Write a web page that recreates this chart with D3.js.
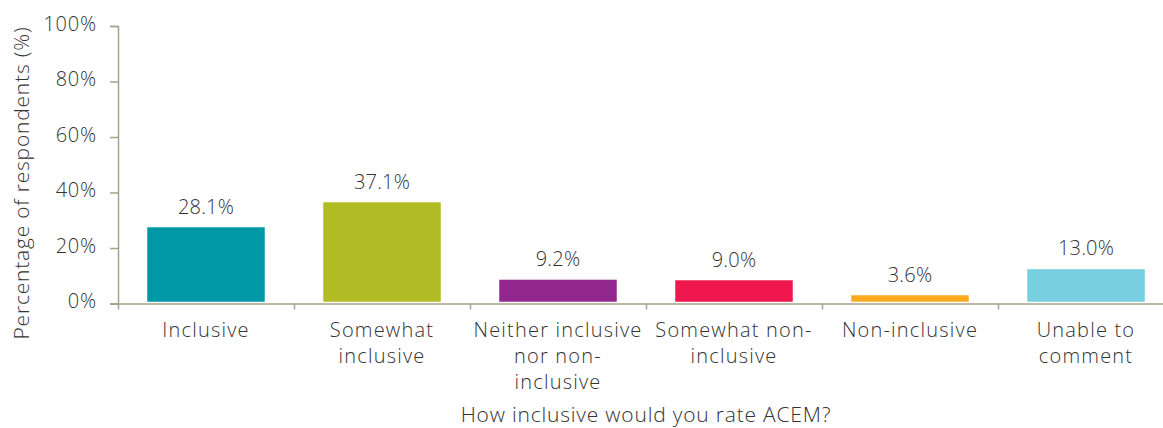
<!DOCTYPE html>
<html>
<head>
<meta charset="utf-8">
<script src="https://cdn.jsdelivr.net/npm/d3@7"></script>
<style>
  html, body { margin: 0; padding: 0; background: #fff; }
  svg { display: block; }
  text { font-family: "Open Sans", "DejaVu Sans", sans-serif; font-weight: 300; fill: #333333; }
</style>
</head>
<body>
<svg id="chart" width="1163" height="428"></svg>
<script>
// Survey responses: rating of ACEM inclusiveness
const categories = [
  "Inclusive",
  "Somewhat inclusive",
  "Neither inclusive nor non-inclusive",
  "Somewhat non-inclusive",
  "Non-inclusive",
  "Unable to comment"
];
// Wrapped category labels as shown under each bar
const categoryLines = [
  ["Inclusive"],
  ["Somewhat", "inclusive"],
  ["Neither inclusive", "nor non-", "inclusive"],
  ["Somewhat non-", "inclusive"],
  ["Non-inclusive"],
  ["Unable to", "comment"]
];
const percentages = [28.1, 37.1, 9.2, 9.0, 3.6, 13.0];
const barColors = ["#0097a6", "#b1bb24", "#92278f", "#ef174d", "#fbaa1e", "#77cfdf"];
const yTicks = [0, 20, 40, 60, 80, 100];
const yTitle = "Percentage of respondents (%)";
const xTitle = "How inclusive would you rate ACEM?";

const svg = d3.select("#chart");
const axisColor = "#a9a28a";
const plotLeft = 118, plotRight = 1174, plotTop = 26, plotBottom = 303.5;

const x = d3.scaleBand()
  .domain(categories)
  .range([plotLeft, plotRight])
  .paddingInner(0.3125)
  .paddingOuter(0.15625);

const y = d3.scaleLinear().domain([0, 100]).range([plotBottom, plotTop]);

// Bars, with a white outline as in the source styling
svg.append("g")
  .selectAll("rect")
  .data(percentages)
  .join("rect")
  .attr("x", (d, i) => x(categories[i]))
  .attr("y", d => y(d))
  .attr("width", x.bandwidth())
  .attr("height", d => y(0) - y(d))
  .attr("fill", (d, i) => barColors[i])
  .attr("stroke", "#fff")
  .attr("stroke-width", 3.5);

// Value labels
svg.append("g")
  .selectAll("text")
  .data(percentages)
  .join("text")
  .attr("x", (d, i) => x(categories[i]) + x.bandwidth() / 2)
  .attr("y", d => y(d) - 12)
  .attr("text-anchor", "middle")
  .style("font-size", "20px")
  .style("letter-spacing", "0.2px")
  .text(d => d.toFixed(1) + "%");

// Y axis
const yAxis = svg.append("g")
  .attr("transform", `translate(${plotLeft},0)`)
  .call(d3.axisLeft(y).tickValues(yTicks).tickFormat(d => d + "%").tickSize(8).tickPadding(13));
yAxis.attr("font-family", null).attr("font-size", null);
yAxis.select(".domain").attr("stroke", axisColor).attr("stroke-width", 1.5);
yAxis.selectAll(".tick line").attr("stroke", axisColor).attr("stroke-width", 1.5);
yAxis.selectAll(".tick text")
  .attr("dy", "0.2em")
  .attr("fill", null)
  .style("font-size", "20px")
  .style("letter-spacing", "0.8px");

// X axis: category boundaries as ticks
const boundaries = categories.map(c => x(c) - x.step() * x.paddingInner() / 2).concat([plotRight]);
const xAxisScale = d3.scaleLinear().domain([plotLeft, plotRight]).range([plotLeft, plotRight]);
const xAxis = svg.append("g")
  .attr("transform", `translate(0,${plotBottom})`)
  .call(d3.axisBottom(xAxisScale).tickValues(boundaries).tickSize(6).tickSizeOuter(0).tickFormat(""));
xAxis.select(".domain").attr("stroke", axisColor).attr("stroke-width", 1.5)
  .attr("d", `M${plotLeft - 8},0.5H${plotRight}`);
xAxis.selectAll(".tick line").attr("stroke", axisColor).attr("stroke-width", 1.5);

// Category labels
const catG = svg.append("g");
categoryLines.forEach((lines, i) => {
  const cx = x(categories[i]) + x.bandwidth() / 2;
  const t = catG.append("text")
    .attr("x", cx)
    .attr("y", 337)
    .attr("text-anchor", "middle")
    .style("font-size", "20px")
    .style("letter-spacing", "1.2px");
  lines.forEach((ln, j) => {
    t.append("tspan")
      .attr("x", cx)
      .attr("dy", j === 0 ? 0 : 26)
      .text(ln);
  });
});

// Axis titles
svg.append("text")
  .attr("transform", `translate(29,183) rotate(-90)`)
  .attr("text-anchor", "middle")
  .style("font-size", "21px")
  .style("letter-spacing", "0.8px")
  .text(yTitle);

svg.append("text")
  .attr("x", (plotLeft + plotRight) / 2)
  .attr("y", 422)
  .attr("text-anchor", "middle")
  .style("font-size", "21px")
  .style("letter-spacing", "0.8px")
  .text(xTitle);
</script>
</body>
</html>
